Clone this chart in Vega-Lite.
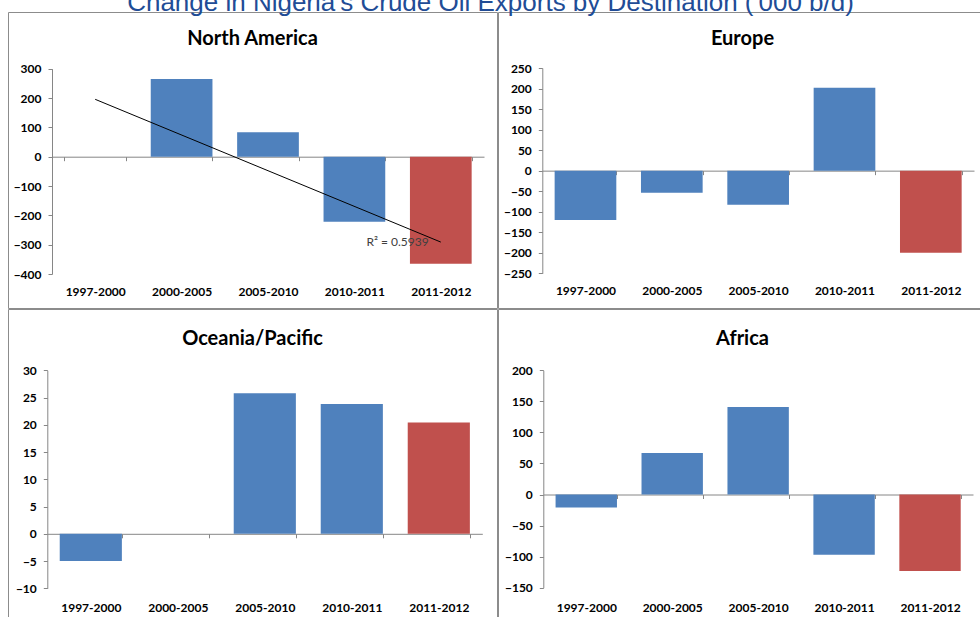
{
  "$schema": "https://vega.github.io/schema/vega-lite/v6.json",
  "background": "white",
  "padding": {"left": 7, "top": -11, "right": 0, "bottom": 0},
  "title": {
    "text": "Change in Nigeria's Crude Oil Exports by Destination ('000 b/d)",
    "font": "Liberation Sans",
    "fontSize": 26,
    "fontWeight": "normal",
    "color": "#214C96",
    "anchor": "middle",
    "baseline": "alphabetic",
    "offset": 1.5,
    "dx": -7,
    "dy": 26.5
  },
  "data": {
    "values": [
      {"region": "North America", "period": "1997-2000", "idx": 1, "value": 0},
      {"region": "North America", "period": "2000-2005", "idx": 2, "value": 265},
      {"region": "North America", "period": "2005-2010", "idx": 3, "value": 83},
      {"region": "North America", "period": "2010-2011", "idx": 4, "value": -222},
      {"region": "North America", "period": "2011-2012", "idx": 5, "value": -365},
      {"region": "Europe", "period": "1997-2000", "idx": 1, "value": -120},
      {"region": "Europe", "period": "2000-2005", "idx": 2, "value": -54},
      {"region": "Europe", "period": "2005-2010", "idx": 3, "value": -83},
      {"region": "Europe", "period": "2010-2011", "idx": 4, "value": 202},
      {"region": "Europe", "period": "2011-2012", "idx": 5, "value": -200},
      {"region": "Oceania/Pacific", "period": "1997-2000", "idx": 1, "value": -5},
      {"region": "Oceania/Pacific", "period": "2000-2005", "idx": 2, "value": 0},
      {"region": "Oceania/Pacific", "period": "2005-2010", "idx": 3, "value": 25.8},
      {"region": "Oceania/Pacific", "period": "2010-2011", "idx": 4, "value": 23.8},
      {"region": "Oceania/Pacific", "period": "2011-2012", "idx": 5, "value": 20.4},
      {"region": "Africa", "period": "1997-2000", "idx": 1, "value": -21},
      {"region": "Africa", "period": "2000-2005", "idx": 2, "value": 67},
      {"region": "Africa", "period": "2005-2010", "idx": 3, "value": 141},
      {"region": "Africa", "period": "2010-2011", "idx": 4, "value": -97},
      {"region": "Africa", "period": "2011-2012", "idx": 5, "value": -123}
    ]
  },
  "columns": 2,
  "spacing": {"row": -1, "column": -1},
  "concat": [
    {
      "width": 489,
      "height": 296,
      "title": {"text": "North America", "offset": -37},
      "transform": [{"filter": "datum.region === 'North America'"}],
      "layer": [
        {
          "mark": {"type": "bar"},
          "encoding": {
            "x": {
              "field": "period", "type": "nominal", "sort": null, "title": null,
              "scale": {"range": [44, 476], "paddingInner": 0.2857, "paddingOuter": 0.1429},
              "axis": {"orient": "bottom", "offset": -151.3, "labelPadding": 125.8, "tickBand": "extent", "labelAngle": 0}
            },
            "y": {
              "field": "value", "type": "quantitative", "title": null,
              "scale": {"domain": [-400, 300], "range": [262, 56.7], "nice": false, "zero": false},
              "axis": {"offset": -44, "values": [-400, -300, -200, -100, 0, 100, 200, 300], "labelPadding": 7}
            },
            "color": {"condition": {"test": "datum.period === '2011-2012'", "value": "#C0504D"}, "value": "#4F81BD"}
          }
        },
        {
          "transform": [{"regression": "value", "on": "idx"}],
          "mark": {"type": "line", "color": "#000000", "strokeWidth": 1},
          "encoding": {
            "x": {"field": "idx", "type": "quantitative", "scale": {"domain": [0.5, 5.5], "range": [44, 476]}, "axis": null},
            "y": {"field": "value", "type": "quantitative", "title": null}
          }
        },
        {
          "data": {"values": [{"label": "R² = 0.5939"}]},
          "mark": {"type": "text", "align": "right", "baseline": "middle", "font": "Lato", "fontSize": 12, "color": "#404040"},
          "encoding": {
            "x": {"datum": 4.86, "type": "quantitative", "scale": {"domain": [0.5, 5.5], "range": [44, 476]}, "axis": null},
            "y": {"datum": -292, "type": "quantitative"},
            "text": {"field": "label"}
          }
        }
      ],
      "resolve": {"scale": {"x": "independent"}}
    },
    {
      "width": 489,
      "height": 296,
      "title": {"text": "Europe", "offset": -37},
      "transform": [{"filter": "datum.region === 'Europe'"}],
      "mark": {"type": "bar"},
      "encoding": {
        "x": {
          "field": "period", "type": "nominal", "sort": null, "title": null,
          "scale": {"range": [44.3, 476], "paddingInner": 0.2857, "paddingOuter": 0.1429},
          "axis": {"orient": "bottom", "offset": -137.35, "labelPadding": 111.1, "tickBand": "extent", "labelAngle": 0}
        },
        "y": {
          "field": "value", "type": "quantitative", "title": null,
          "scale": {"domain": [-250, 250], "range": [261.3, 56], "nice": false, "zero": false},
          "axis": {"offset": -44.3, "values": [-250, -200, -150, -100, -50, 0, 50, 100, 150, 200, 250], "labelPadding": 7}
        },
        "color": {"condition": {"test": "datum.period === '2011-2012'", "value": "#C0504D"}, "value": "#4F81BD"}
      }
    },
    {
      "width": 489,
      "height": 308,
      "title": {"text": "Oceania/Pacific", "offset": -40},
      "transform": [{"filter": "datum.region === 'Oceania/Pacific'"}],
      "mark": {"type": "bar"},
      "encoding": {
        "x": {
          "field": "period", "type": "nominal", "sort": null, "title": null,
          "scale": {"range": [39.3, 474.3], "paddingInner": 0.2857, "paddingOuter": 0.1429},
          "axis": {"orient": "bottom", "offset": -83.2, "labelPadding": 64.3, "tickBand": "extent", "labelAngle": 0}
        },
        "y": {
          "field": "value", "type": "quantitative", "title": null,
          "scale": {"domain": [-10, 30], "range": [279.3, 61.3], "nice": false, "zero": false},
          "axis": {"offset": -39.3, "values": [-10, -5, 0, 5, 10, 15, 20, 25, 30], "labelPadding": 7}
        },
        "color": {"condition": {"test": "datum.period === '2011-2012'", "value": "#C0504D"}, "value": "#4F81BD"}
      }
    },
    {
      "width": 489,
      "height": 308,
      "title": {"text": "Africa", "offset": -40},
      "transform": [{"filter": "datum.region === 'Africa'"}],
      "mark": {"type": "bar"},
      "encoding": {
        "x": {
          "field": "period", "type": "nominal", "sort": null, "title": null,
          "scale": {"range": [45.3, 475], "paddingInner": 0.2857, "paddingOuter": 0.1429},
          "axis": {"orient": "bottom", "offset": -122.5, "labelPadding": 103.6, "tickBand": "extent", "labelAngle": 0}
        },
        "y": {
          "field": "value", "type": "quantitative", "title": null,
          "scale": {"domain": [-150, 200], "range": [278.7, 61.3], "nice": false, "zero": false},
          "axis": {"offset": -45.3, "values": [-150, -100, -50, 0, 50, 100, 150, 200], "labelPadding": 7}
        },
        "color": {"condition": {"test": "datum.period === '2011-2012'", "value": "#C0504D"}, "value": "#4F81BD"}
      }
    }
  ],
  "config": {
    "view": {"stroke": "#8C8C8C", "strokeWidth": 1},
    "font": "Lato",
    "title": {"font": "Lato", "fontSize": 20, "fontWeight": "bold", "color": "#000000", "anchor": "middle", "baseline": "top"},
    "axis": {
      "domainColor": "#868686",
      "tickColor": "#868686",
      "tickSize": 4,
      "labelFont": "Lato",
      "labelFontSize": 12,
      "labelFontWeight": "bold",
      "labelColor": "#000000",
      "grid": false
    }
  }
}
